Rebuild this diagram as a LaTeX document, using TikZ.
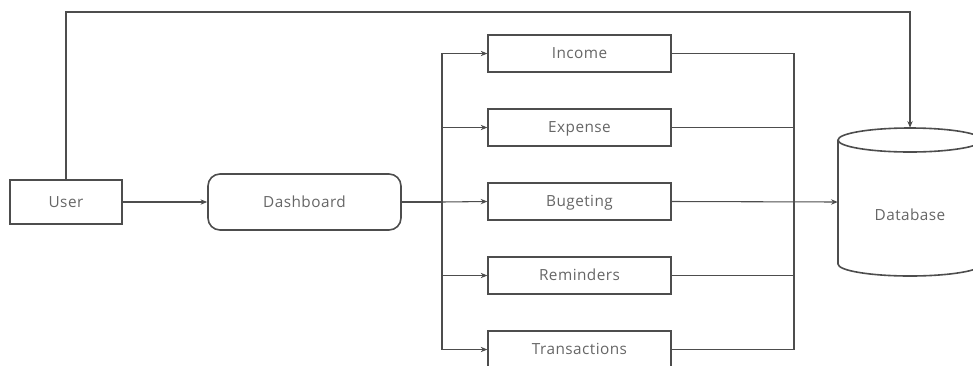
\documentclass[tikz,border=0pt]{standalone}
\usepackage{fontspec}
\setmainfont{Open Sans}[LetterSpace=3]
\usetikzlibrary{arrows.meta}
\definecolor{ln}{HTML}{4D4D4D}
\definecolor{tx}{HTML}{666666}
\tikzset{
  lbl/.style={text=tx, font=\fontsize{11.5}{13}\selectfont, text height=8.2pt, text depth=0pt},
  box/.style={lbl, draw=ln, line width=1.2pt, minimum width=137pt, minimum height=27.75pt, inner sep=0pt},
  conn/.style={draw=ln, line width=0.8pt},
  arr/.style={conn, -{Stealth[length=5pt,width=4pt]}},
}
\begin{document}
\begin{tikzpicture}[x=0.75pt,y=-0.75pt]
\useasboundingbox (0,0) rectangle (973,365);
\clip (0,0) rectangle (973,365);
\node[box, minimum width=84pt, minimum height=33pt] (user) at (66,202) {User};
\node[box, rounded corners=9pt, minimum width=144.75pt, minimum height=42pt] (dash) at (304.5,202) {Dashboard};
\node[box] (income) at (579.5,53.5) {Income};
\node[box] (expense) at (579.5,127.5) {Expense};
\node[box] (bug) at (579.5,201.5) {Bugeting};
\node[box] (rem) at (579.5,275.5) {Reminders};
\node[box] (trans) at (579.5,349.5) {Transactions};
% database
\node[minimum width=108pt, minimum height=111pt, inner sep=0pt] (db) at (910,202) {};
\draw[ln, line width=1.2pt, fill=white] (838,140) -- (838,264) arc[start angle=180, end angle=360, x radius=54pt, y radius=9pt] -- (982,140);
\draw[ln, line width=1.2pt] (910,140) ellipse [x radius=54pt, y radius=9pt];
\node[lbl] (dblabel) at (910,215) {Database};
\coordinate (bl) at (442,202);
\coordinate (br) at (794,202);
\coordinate (topy) at (0,12);
\draw[arr] (user.east) -- (dash.west);
\draw[arr] (user.north) -- (user.north |- topy) -| (db.north);
\draw[conn] (dash.east) -- (bl);
\draw[arr] (bl) |- (income.west);
\draw[arr] (bl) -- (expense.west -| bl) -- (expense.west);
\draw[arr] (bl) -- (bug.west);
\draw[arr] (bl) -- (rem.west -| bl) -- (rem.west);
\draw[arr] (bl) |- (trans.west);
\draw[conn] (income.east) -| (br);
\draw[conn] (expense.east) -- (expense.east -| br);
\draw[conn] (rem.east) -- (rem.east -| br);
\draw[conn] (trans.east) -| (br);
\draw[arr] (bug.east) -- (db.west);
\end{tikzpicture}
\end{document}
